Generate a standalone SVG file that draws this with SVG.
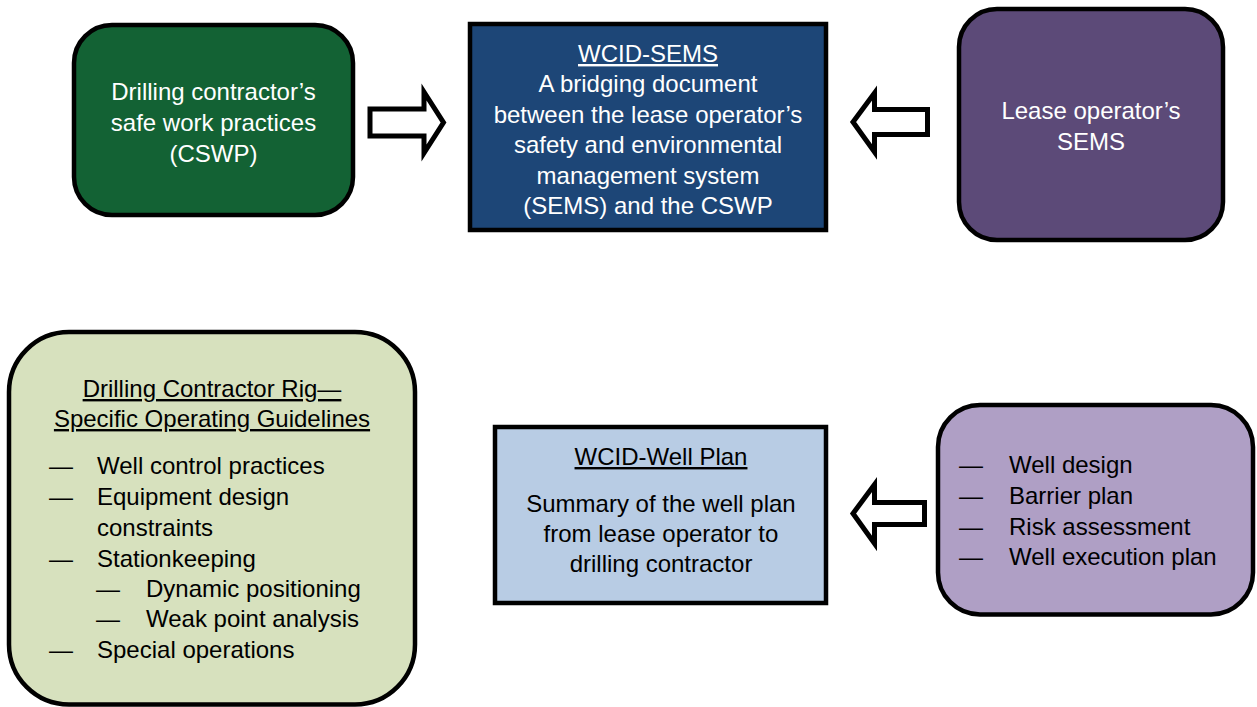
<svg xmlns="http://www.w3.org/2000/svg" width="1257" height="707" viewBox="0 0 1257 707">
<style>
.box{stroke:#000;stroke-width:4.5}
.arrow{fill:#fff;stroke:#000;stroke-width:5;stroke-linejoin:miter;stroke-miterlimit:10}
text{font-family:"Liberation Sans",Arial,sans-serif;font-size:24px}
.w{fill:#fff}
.k{fill:#000}
.c{text-anchor:middle}
.u{text-decoration:underline}
</style>
<rect width="1257" height="707" fill="#fff"/>
<g id="connectors">
<path class="arrow" d="M370,109 L424,109 L424,92 L443.5,122.5 L424,153 L424,136 L370,136 Z"/>
<path class="arrow" d="M927.5,109.5 L874.5,109.5 L874.5,93 L853,122 L874.5,152 L874.5,134.5 L927.5,134.5 Z"/>
<path class="arrow" d="M924.5,502.5 L874.5,502.5 L874.5,484.5 L853,513.5 L874.5,543.5 L874.5,524.5 L924.5,524.5 Z"/>
</g>
<g id="node-cswp">
<rect class="box" x="74" y="25" width="279" height="190" rx="38" fill="#136234"/>
<text class="w c" x="213.5" y="100">Drilling contractor’s</text>
<text class="w c" x="213.5" y="131">safe work practices</text>
<text class="w c" x="213.5" y="162">(CSWP)</text>
</g>
<g id="node-wcid-sems">
<rect class="box" x="470" y="24" width="356" height="206" fill="#1D4677"/>
<text class="w c u" x="648" y="62">WCID-SEMS</text>
<text class="w c" x="648" y="92.4">A bridging document</text>
<text class="w c" x="648" y="122.8">between the lease operator’s</text>
<text class="w c" x="648" y="153.2">safety and environmental</text>
<text class="w c" x="648" y="183.6">management system</text>
<text class="w c" x="648" y="214">(SEMS) and the CSWP</text>
</g>
<g id="node-lease-sems">
<rect class="box" x="959" y="9" width="264" height="231" rx="38" fill="#5C4A78"/>
<text class="w c" x="1091" y="119">Lease operator’s</text>
<text class="w c" x="1091" y="149.5">SEMS</text>
</g>
<g id="node-rig-guidelines">
<rect class="box" x="9" y="332" width="406" height="372.5" rx="60" fill="#D7E1BE"/>
<text class="k c u" x="212" y="397">Drilling Contractor Rig—</text>
<text class="k c u" x="212" y="427">Specific Operating Guidelines</text>
<text class="k" x="49" y="474">—</text><text class="k" x="97" y="474">Well control practices</text>
<text class="k" x="49" y="505">—</text><text class="k" x="97" y="505">Equipment design</text>
<text class="k" x="97" y="536">constraints</text>
<text class="k" x="49" y="567">—</text><text class="k" x="97" y="567">Stationkeeping</text>
<text class="k" x="96" y="597">—</text><text class="k" x="146" y="597">Dynamic positioning</text>
<text class="k" x="96" y="627">—</text><text class="k" x="146" y="627">Weak point analysis</text>
<text class="k" x="49" y="658">—</text><text class="k" x="97" y="658">Special operations</text>
</g>
<g id="node-wcid-well-plan">
<rect class="box" x="495" y="427" width="331" height="176" fill="#B8CCE4"/>
<text class="k c u" x="661" y="465">WCID-Well Plan</text>
<text class="k c" x="661" y="512">Summary of the well plan</text>
<text class="k c" x="661" y="542">from lease operator to</text>
<text class="k c" x="661" y="572">drilling contractor</text>
</g>
<g id="node-well-plan-items">
<rect class="box" x="938" y="405" width="315" height="209.5" rx="42" fill="#AF9FC5"/>
<text class="k" x="959" y="473">—</text><text class="k" x="1009" y="473">Well design</text>
<text class="k" x="959" y="504">—</text><text class="k" x="1009" y="504">Barrier plan</text>
<text class="k" x="959" y="535">—</text><text class="k" x="1009" y="535">Risk assessment</text>
<text class="k" x="959" y="565">—</text><text class="k" x="1009" y="565">Well execution plan</text>
</g>
</svg>
